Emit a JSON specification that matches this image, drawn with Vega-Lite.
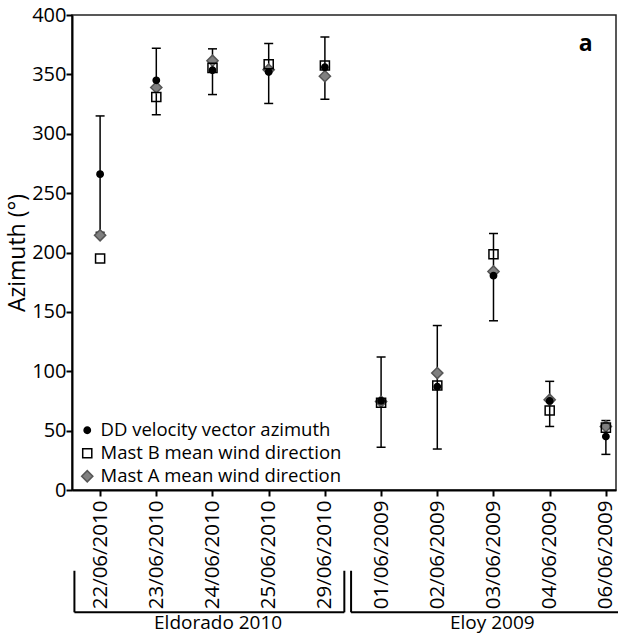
{
  "$schema": "https://vega.github.io/schema/vega-lite/v6.json",
  "width": 544,
  "height": 475,
  "autosize": {"type": "none"},
  "padding": {"left": 72, "top": 15, "right": 2, "bottom": 144},
  "background": "white",
  "config": {
    "font": "Open Sans",
    "view": {"stroke": "#222222", "strokeWidth": 1.5},
    "axis": {
      "domainColor": "black", "domainWidth": 2,
      "tickColor": "black", "tickWidth": 2, "tickSize": 6,
      "labelColor": "black", "labelFontSize": 20, "labelFont": "Open Sans",
      "grid": false,
      "titleColor": "black", "titleFont": "Open Sans", "titleFontWeight": "normal", "titleFontSize": 23
    },
    "legend": {
      "labelFont": "Open Sans", "labelFontSize": 18.5, "labelColor": "black", "labelLimit": 0,
      "symbolStrokeWidth": 1.5, "rowPadding": 4
    }
  },
  "datasets": {
    "points": [
      {"date": "22/06/2010", "idx": 0, "series": "Mast A mean wind direction", "az": 214.5},
      {"date": "22/06/2010", "idx": 0, "series": "Mast B mean wind direction", "az": 195},
      {"date": "22/06/2010", "idx": 0, "series": "DD velocity vector azimuth", "az": 266},
      {"date": "23/06/2010", "idx": 1, "series": "Mast A mean wind direction", "az": 339},
      {"date": "23/06/2010", "idx": 1, "series": "Mast B mean wind direction", "az": 331},
      {"date": "23/06/2010", "idx": 1, "series": "DD velocity vector azimuth", "az": 345},
      {"date": "24/06/2010", "idx": 2, "series": "Mast A mean wind direction", "az": 361.5},
      {"date": "24/06/2010", "idx": 2, "series": "Mast B mean wind direction", "az": 355.5},
      {"date": "24/06/2010", "idx": 2, "series": "DD velocity vector azimuth", "az": 353.5},
      {"date": "25/06/2010", "idx": 3, "series": "Mast A mean wind direction", "az": 354},
      {"date": "25/06/2010", "idx": 3, "series": "Mast B mean wind direction", "az": 358.5},
      {"date": "25/06/2010", "idx": 3, "series": "DD velocity vector azimuth", "az": 352},
      {"date": "29/06/2010", "idx": 4, "series": "Mast A mean wind direction", "az": 348.5},
      {"date": "29/06/2010", "idx": 4, "series": "Mast B mean wind direction", "az": 357.5},
      {"date": "29/06/2010", "idx": 4, "series": "DD velocity vector azimuth", "az": 356},
      {"date": "01/06/2009", "idx": 5, "series": "Mast A mean wind direction", "az": 74.5},
      {"date": "01/06/2009", "idx": 5, "series": "Mast B mean wind direction", "az": 73.5},
      {"date": "01/06/2009", "idx": 5, "series": "DD velocity vector azimuth", "az": 75},
      {"date": "02/06/2009", "idx": 6, "series": "Mast A mean wind direction", "az": 98.5},
      {"date": "02/06/2009", "idx": 6, "series": "Mast B mean wind direction", "az": 88},
      {"date": "02/06/2009", "idx": 6, "series": "DD velocity vector azimuth", "az": 87},
      {"date": "03/06/2009", "idx": 7, "series": "Mast A mean wind direction", "az": 184},
      {"date": "03/06/2009", "idx": 7, "series": "Mast B mean wind direction", "az": 198.5},
      {"date": "03/06/2009", "idx": 7, "series": "DD velocity vector azimuth", "az": 180.5},
      {"date": "04/06/2009", "idx": 8, "series": "Mast A mean wind direction", "az": 76},
      {"date": "04/06/2009", "idx": 8, "series": "Mast B mean wind direction", "az": 67},
      {"date": "04/06/2009", "idx": 8, "series": "DD velocity vector azimuth", "az": 75},
      {"date": "06/06/2009", "idx": 9, "series": "Mast A mean wind direction", "az": 53.5},
      {"date": "06/06/2009", "idx": 9, "series": "Mast B mean wind direction", "az": 52.5},
      {"date": "06/06/2009", "idx": 9, "series": "DD velocity vector azimuth", "az": 45}
    ],
    "errors": [
      {"date": "22/06/2010", "idx": 0, "lo": 217, "hi": 315},
      {"date": "23/06/2010", "idx": 1, "lo": 316, "hi": 372},
      {"date": "24/06/2010", "idx": 2, "lo": 333, "hi": 371.5},
      {"date": "25/06/2010", "idx": 3, "lo": 325.5, "hi": 376},
      {"date": "29/06/2010", "idx": 4, "lo": 329, "hi": 381.5},
      {"date": "01/06/2009", "idx": 5, "lo": 36, "hi": 112},
      {"date": "02/06/2009", "idx": 6, "lo": 34.5, "hi": 138.5},
      {"date": "03/06/2009", "idx": 7, "lo": 142.5, "hi": 216},
      {"date": "04/06/2009", "idx": 8, "lo": 53.5, "hi": 91.5},
      {"date": "06/06/2009", "idx": 9, "lo": 30, "hi": 58.5}
    ],
    "brackets": [
      {"group": "Eldorado 2010", "idx": -0.457, "idx2": -0.457, "az": -68, "az2": -103},
      {"group": "Eldorado 2010", "idx": -0.457, "idx2": 4.346, "az": -103, "az2": -103},
      {"group": "Eldorado 2010", "idx": 4.346, "idx2": 4.346, "az": -68, "az2": -103},
      {"group": "Eloy 2009", "idx": 4.466, "idx2": 4.466, "az": -68, "az2": -103},
      {"group": "Eloy 2009", "idx": 4.466, "idx2": 9.5, "az": -103, "az2": -103}
    ],
    "groups": [
      {"group": "Eldorado 2010", "idx": 2.1, "az": -117},
      {"group": "Eloy 2009", "idx": 6.98, "az": -117}
    ],
    "annot": [
      {"label": "a", "idx": 8.64, "az": 376}
    ]
  },
  "layer": [
    {
      "data": {"name": "errors"},
      "mark": {"type": "rule", "color": "black", "strokeWidth": 1.5},
      "encoding": {
        "x": {"field": "idx", "type": "quantitative", "scale": {"domain": [-0.5, 9.18], "nice": false, "zero": false},
              "axis": {"values": [0,1,2,3,4,5,6,7,8,9], "labelAngle": -90, "labelPadding": 4, "labelFontSize": 20.5, "title": null,
                       "labelExpr": "['22/06/2010','23/06/2010','24/06/2010','25/06/2010','29/06/2010','01/06/2009','02/06/2009','03/06/2009','04/06/2009','06/06/2009'][datum.value]"}},
        "y": {"field": "lo", "type": "quantitative", "scale": {"domain": [0, 400], "nice": false},
              "axis": {"values": [0,50,100,150,200,250,300,350,400], "title": "Azimuth (°)", "labelPadding": 0, "titlePadding": 2}},
        "y2": {"field": "hi"}
      }
    },
    {
      "data": {"name": "errors"},
      "mark": {"type": "tick", "orient": "horizontal", "color": "black", "size": 9, "thickness": 1.5, "opacity": 1},
      "encoding": {
        "x": {"field": "idx", "type": "quantitative"},
        "y": {"field": "lo", "type": "quantitative"}
      }
    },
    {
      "data": {"name": "errors"},
      "mark": {"type": "tick", "orient": "horizontal", "color": "black", "size": 9, "thickness": 1.5, "opacity": 1},
      "encoding": {
        "x": {"field": "idx", "type": "quantitative"},
        "y": {"field": "hi", "type": "quantitative"}
      }
    },
    {
      "data": {"name": "points"},
      "mark": {"type": "point", "opacity": 1, "strokeWidth": 1.5},
      "encoding": {
        "x": {"field": "idx", "type": "quantitative"},
        "y": {"field": "az", "type": "quantitative"},
        "shape": {"field": "series", "type": "nominal",
                  "scale": {"domain": ["DD velocity vector azimuth", "Mast B mean wind direction", "Mast A mean wind direction"], "range": ["circle", "square", "diamond"]},
                  "legend": {"title": null, "orient": "none", "legendX": 6, "legendY": 406}},
        "fill": {"field": "series", "type": "nominal",
                 "scale": {"domain": ["DD velocity vector azimuth", "Mast B mean wind direction", "Mast A mean wind direction"], "range": ["black", "transparent", "#808080"]},
                 "legend": {"title": null, "orient": "none", "legendX": 6, "legendY": 406}},
        "stroke": {"field": "series", "type": "nominal",
                   "scale": {"domain": ["DD velocity vector azimuth", "Mast B mean wind direction", "Mast A mean wind direction"], "range": ["black", "black", "#555555"]},
                   "legend": {"title": null, "orient": "none", "legendX": 6, "legendY": 406}},
        "size": {"field": "series", "type": "nominal",
                 "scale": {"domain": ["DD velocity vector azimuth", "Mast B mean wind direction", "Mast A mean wind direction"], "range": [40, 125, 150]},
                 "legend": {"title": null, "orient": "none", "legendX": 6, "legendY": 406}}
      }
    },
    {
      "data": {"name": "brackets"},
      "mark": {"type": "rule", "color": "black", "strokeWidth": 2, "clip": false},
      "encoding": {
        "x": {"field": "idx", "type": "quantitative"},
        "x2": {"field": "idx2"},
        "y": {"field": "az", "type": "quantitative"},
        "y2": {"field": "az2"}
      }
    },
    {
      "data": {"name": "groups"},
      "mark": {"type": "text", "fontSize": 19, "font": "Open Sans", "color": "black", "align": "center", "baseline": "alphabetic"},
      "encoding": {
        "x": {"field": "idx", "type": "quantitative"},
        "y": {"field": "az", "type": "quantitative"},
        "text": {"field": "group"}
      }
    },
    {
      "data": {"name": "annot"},
      "mark": {"type": "text", "fontSize": 23, "font": "Open Sans", "fontWeight": "bold", "color": "black", "align": "center", "baseline": "middle"},
      "encoding": {
        "x": {"field": "idx", "type": "quantitative"},
        "y": {"field": "az", "type": "quantitative"},
        "text": {"field": "label"}
      }
    }
  ]
}
